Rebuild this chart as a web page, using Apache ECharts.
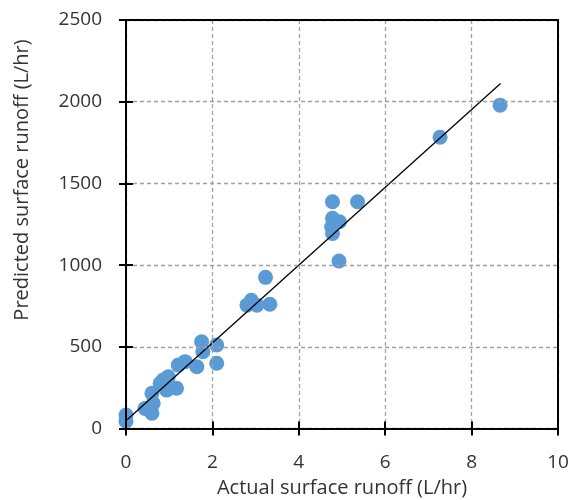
<!DOCTYPE html>
<html>
<head>
<meta charset="utf-8">
<script src="https://cdn.jsdelivr.net/npm/echarts@6/dist/echarts.min.js"></script>
<style>
html,body{margin:0;padding:0;background:#fff;}
#chart{width:574px;height:500px;}
</style>
</head>
<body>
<div id="chart"></div>
<script>
// Data
var actualRunoff = [0, 0, 0.44, 0.6, 0.63, 0.6, 0.79, 0.86, 0.98, 0.94, 1.17, 1.21, 1.37, 1.64, 1.75, 1.78, 2.1, 2.1,
  2.8, 2.9, 3.03, 3.33, 3.23, 4.78, 4.76, 4.94, 4.78, 4.93, 4.78, 5.36, 7.27, 8.66];
var predictedRunoff = [82, 45, 123, 93, 154, 215, 276, 297, 317, 235, 246, 388, 409, 378, 531, 470, 511, 399,
  755, 785, 755, 760, 925, 1286, 1235, 1265, 1194, 1025, 1388, 1388, 1782, 1979];
var trendX = [0, 8.67];
var trendY = [48, 2112];
var xTicks = [0, 2, 4, 6, 8, 10];
var yTicks = [0, 500, 1000, 1500, 2000, 2500];
var xTitle = 'Actual surface runoff (L/hr)';
var yTitle = 'Predicted surface runoff (L/hr)';

var scatterData = actualRunoff.map(function (x, i) { return [x, predictedRunoff[i]]; });
var trendData = trendX.map(function (x, i) { return [x, trendY[i]]; });

var font = "'Open Sans', 'Noto Sans', sans-serif";
var txtColor = '#333';

var chart = echarts.init(document.getElementById('chart'), null, {renderer: 'canvas'});
var grid = {left: 126, right: 16, top: 20, bottom: 71.5, outerBoundsMode: 'none', containLabel: false};

var xBase = {
  type: 'value', min: xTicks[0], max: xTicks[xTicks.length - 1], interval: 2
};
var yBase = {
  type: 'value', min: yTicks[0], max: yTicks[yTicks.length - 1], interval: 500
};
var tickStyle = {color: '#000', width: 2};
var plainFmt = function (v) { return String(v); };

chart.setOption({
  animation: false,
  grid: grid,
  xAxis: [
    Object.assign({}, xBase, {
      name: xTitle, nameLocation: 'middle', nameGap: 50,
      nameTextStyle: {fontFamily: font, fontSize: 20, color: txtColor},
      axisLine: {show: true, onZero: false, lineStyle: {color: '#000', width: 2}},
      axisTick: {show: true, inside: false, length: 7, lineStyle: tickStyle},
      axisLabel: {fontFamily: font, fontSize: 19, color: txtColor, margin: 25, formatter: plainFmt},
      splitLine: {show: true, lineStyle: {color: '#a0a0a0', width: 1.3, type: [4, 3]}},
      z: 5
    }),
    Object.assign({}, xBase, {
      position: 'bottom',
      axisLine: {show: false, onZero: false},
      axisTick: {show: true, inside: true, length: 7, lineStyle: tickStyle},
      axisLabel: {show: false},
      splitLine: {show: false},
      z: 5
    }),
    Object.assign({}, xBase, {
      position: 'top',
      axisLine: {show: true, onZero: false, lineStyle: {color: '#000', width: 2}},
      axisTick: {show: false},
      axisLabel: {show: false},
      splitLine: {show: false},
      z: 5
    })
  ],
  yAxis: [
    Object.assign({}, yBase, {
      axisLine: {show: true, onZero: false, lineStyle: {color: '#000', width: 2}},
      axisTick: {show: true, inside: false, length: 7, lineStyle: tickStyle},
      axisLabel: {fontFamily: font, fontSize: 19, color: txtColor, margin: 24, formatter: plainFmt},
      splitLine: {show: true, lineStyle: {color: '#a0a0a0', width: 1.3, type: [4, 3]}},
      z: 5
    }),
    Object.assign({}, yBase, {
      position: 'left',
      axisLine: {show: false, onZero: false},
      axisTick: {show: true, inside: true, length: 7, lineStyle: tickStyle},
      axisLabel: {show: false},
      splitLine: {show: false},
      z: 5
    }),
    Object.assign({}, yBase, {
      position: 'right',
      axisLine: {show: true, onZero: false, lineStyle: {color: '#000', width: 2}},
      axisTick: {show: false},
      axisLabel: {show: false},
      splitLine: {show: false},
      z: 5
    })
  ],
  graphic: [{
    type: 'text',
    x: 22, y: 180,
    rotation: Math.PI / 2,
    style: {text: yTitle, font: '20px ' + font, fill: txtColor, textAlign: 'center', textVerticalAlign: 'middle'}
  }],
  series: [
    {
      type: 'scatter', xAxisIndex: 0, yAxisIndex: 0,
      data: scatterData, symbol: 'circle', symbolSize: 15,
      itemStyle: {color: '#5b9bd5', opacity: 1},
      z: 2
    },
    {
      type: 'line', xAxisIndex: 0, yAxisIndex: 0,
      data: trendData, symbol: 'none',
      lineStyle: {color: '#000', width: 1.3},
      z: 3
    }
  ]
});
</script>
</body>
</html>
